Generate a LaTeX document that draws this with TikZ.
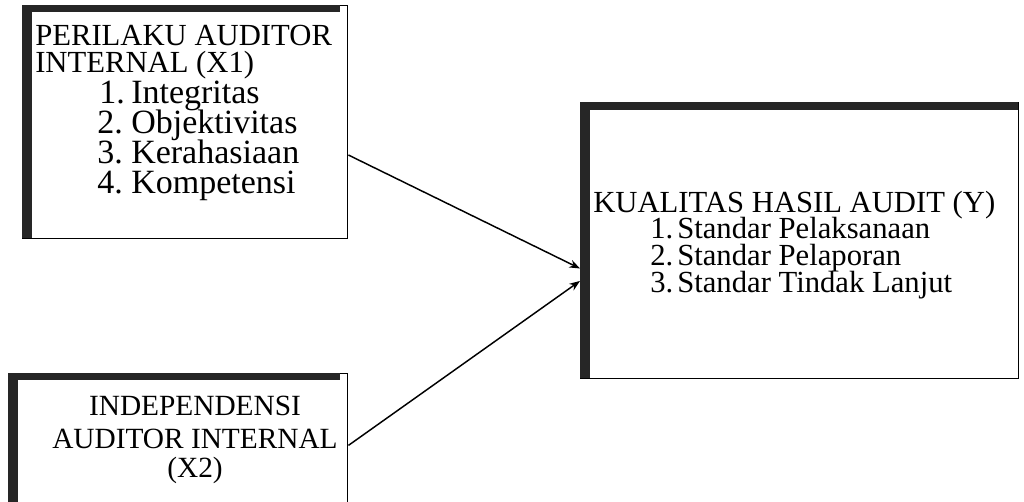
\documentclass[tikz,border=0pt]{standalone}
\usepackage{fontspec}
\setmainfont{Liberation Serif}
\usetikzlibrary{arrows.meta,calc}
\begin{document}
\begin{tikzpicture}[x=0.75pt,y=-0.75pt,
  txt/.style={font=\fontsize{23}{27}\selectfont, inner sep=0pt, anchor=base west},
  itm/.style={font=\fontsize{25.5}{27}\selectfont, inner sep=0pt, anchor=base west},
  ctxt/.style={font=\fontsize{22}{27}\selectfont, inner sep=0pt, anchor=base},
  band/.style={fill=black!85, draw=none},
  boxn/.style={draw=black, line width=1.1pt, inner sep=0pt, anchor=north west},
  conn/.style={draw=black, line width=1.1pt, -{Stealth[length=8pt,width=6pt]}}]
\useasboundingbox (0,0) rectangle (1024,502);

% Box X1
\node[boxn, minimum width=243.75pt, minimum height=174.75pt] (x1) at (22,5) {};
\fill[band] (22,5) rectangle (340,12);
\fill[band] (22,5) rectangle (32,238);
\node[txt] (x1t1) at (35,46) {PERILAKU AUDITOR};
\node[txt] (x1t2) at (35,73) {INTERNAL (X1)};
\node[itm] (x1n1) at (99,104) {1.};
\node[itm] (x1i1) at (131,104) {Integritas};
\node[itm] (x1n2) at (97,134) {2.};
\node[itm] (x1i2) at (131,134) {Objektivitas};
\node[itm] (x1n3) at (97,164) {3.};
\node[itm] (x1i3) at (131,164) {Kerahasiaan};
\node[itm] (x1n4) at (97,194) {4.};
\node[itm] (x1i4) at (131,194) {Kompetensi};

% Box X2
\node[boxn, minimum width=254.25pt, minimum height=112pt] (x2) at (8,373) {};
\fill[band] (8,373) rectangle (340,380);
\fill[band] (8,373) rectangle (18,502);
\node[ctxt] (x2t1) at (195,415) {INDEPENDENSI};
\node[ctxt] (x2t2) at (195,448) {AUDITOR INTERNAL};
\node[ctxt] (x2t3) at (195,477) {(X2)};

% Box Y
\node[boxn, minimum width=328.5pt, minimum height=207pt] (y) at (580,102) {};
\fill[band] (580,102) rectangle (1018,110);
\fill[band] (580,102) rectangle (590,378);
\node[txt] (yt) at (593,213) {KUALITAS HASIL AUDIT (Y)};
\node[txt] (yn1) at (650,239) {1.};
\node[txt] (yi1) at (677,239) {Standar Pelaksanaan};
\node[txt] (yn2) at (650,266) {2.};
\node[txt] (yi2) at (677,266) {Standar Pelaporan};
\node[txt] (yn3) at (650,292) {3.};
\node[txt] (yi3) at (677,292) {Standar Tindak Lanjut};

% Connectors
\draw[conn] ($(x1.north east)!0.64!(x1.south east)$) -- ($(y.north west)!0.60!(y.south west)$);
\draw[conn] ($(x2.north east)!0.48!(x2.south east)$) -- ($(y.north west)!0.645!(y.south west)$);
\end{tikzpicture}
\end{document}
